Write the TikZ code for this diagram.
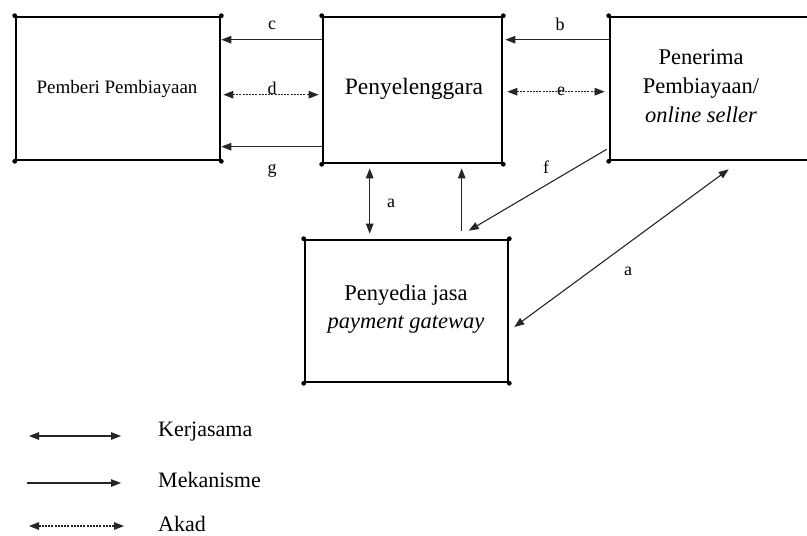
\documentclass[tikz,border=0pt]{standalone}
\usepackage{fontspec}
\setmainfont{Liberation Serif}
\usetikzlibrary{arrows.meta}

\tikzset{
  block/.style={draw, line width=2.6pt, inner sep=0pt},
  boxtext/.style={align=center, inner sep=0pt},
  tip/.tip={Triangle[length=10pt,width=7.5pt]},
  flow/.style={draw=black!85, line width=1.1pt, -tip},
  twoway/.style={draw=black!85, line width=1.1pt, tip-tip},
  akad/.style={draw=black!85, line width=1.1pt, dash pattern=on 2pt off 1.2pt, tip-tip},
  lbl/.style={inner sep=0pt, font=\fontsize{18}{20}\selectfont},
  legendtext/.style={anchor=west, inner sep=0pt, font=\fontsize{22}{24}\selectfont},
  corner/.style={fill=black}
}

\begin{document}
\begin{tikzpicture}[x=1pt, y=-1pt]
\useasboundingbox (0,0) rectangle (807,536);

% the four parties
\node[block, minimum width=204pt, minimum height=143pt] (pemberi) at (118,88.5) {};
\node[block, minimum width=179pt, minimum height=146pt] (penyelenggara) at (412.5,90) {};
\node[block, minimum width=204pt, minimum height=143pt] (penerima) at (712,88.5) {};
\node[block, minimum width=203pt, minimum height=142pt] (penyedia) at (406.5,311) {};

% small dots on the box corners
\foreach \b in {pemberi, penyelenggara, penerima, penyedia}
  \foreach \c in {north west, north east, south west, south east}
    \fill[corner] (\b.\c) circle (2.4pt);

% box texts
\node[boxtext, font=\fontsize{19}{21}\selectfont] (tpemberi) at (117,89) {Pemberi Pembiayaan};
\node[boxtext, font=\fontsize{23.5}{26}\selectfont] (tpenyelenggara) at (414,89) {Penyelenggara};
\node[boxtext, font=\fontsize{22.5}{29}\selectfont] (tpenerima) at (701,86) {Penerima\\Pembiayaan/\\\textit{online seller}};
\node[boxtext, font=\fontsize{22.5}{28}\selectfont] (tpenyedia) at (406,309) {Penyedia jasa\\\textit{payment gateway}};

% connectors between Penyelenggara and Pemberi Pembiayaan
\draw[flow] ([yshift=-24pt]penyelenggara.north west) -- ([yshift=-24pt]pemberi.north east);
\draw[akad, shorten <=2pt, shorten >=3pt] ([yshift=-79pt]pemberi.north east) -- ([yshift=-79pt]penyelenggara.north west);
\draw[flow] ([yshift=-131pt]penyelenggara.north west) -- ([yshift=-131pt]pemberi.north east);

% connectors between Penerima Pembiayaan and Penyelenggara
\draw[flow, shorten >=2pt] ([yshift=-24pt]penerima.north west) -- ([yshift=-24pt]penyelenggara.north east);
\draw[akad, shorten <=4pt, shorten >=4pt] ([yshift=-76pt]penyelenggara.north east) -- ([yshift=-76pt]penerima.north west);

% connectors to the payment gateway
\draw[twoway, shorten <=4pt, shorten >=5pt] ([xshift=48pt]penyelenggara.south west) -- ([xshift=66pt]penyedia.north west);
\draw[flow, shorten >=4pt] ([shift={(158pt,8pt)}]penyedia.north west) -- ([xshift=140pt]penyelenggara.south west);
\draw[flow] ([shift={(-2pt,12pt)}]penerima.south west) -- ([shift={(165pt,8pt)}]penyedia.north west);
\draw[twoway] ([shift={(5pt,-16pt)}]penyedia.east) -- ([shift={(120pt,-8pt)}]penerima.south west);

% connector letters
\node[lbl] (lc) at (272,25) {c};
\node[lbl] (ld) at (272,88) {d};
\node[lbl] (lg) at (272,171) {g};
\node[lbl] (lb) at (560,24) {b};
\node[lbl] (le) at (561,91) {e};
\node[lbl] (lf) at (546,167) {f};
\node[lbl] (la1) at (391,203) {a};
\node[lbl] (la2) at (628,271) {a};

% legend
\coordinate (k1) at (29,436);
\coordinate (k2) at (121,436);
\coordinate (m1) at (27,483);
\coordinate (m2) at (121,483);
\coordinate (a1) at (29,526);
\coordinate (a2) at (124,526);
\draw[twoway, line width=1.4pt] (k1) -- (k2);
\draw[flow, line width=1.4pt] (m1) -- (m2);
\draw[akad, line width=1.4pt] (a1) -- (a2);
\node[legendtext] (kerjasama) at (158,432) {Kerjasama};
\node[legendtext] (mekanisme) at (158,480) {Mekanisme};
\node[legendtext] (akadtext) at (158,524) {Akad};
\end{tikzpicture}
\end{document}
